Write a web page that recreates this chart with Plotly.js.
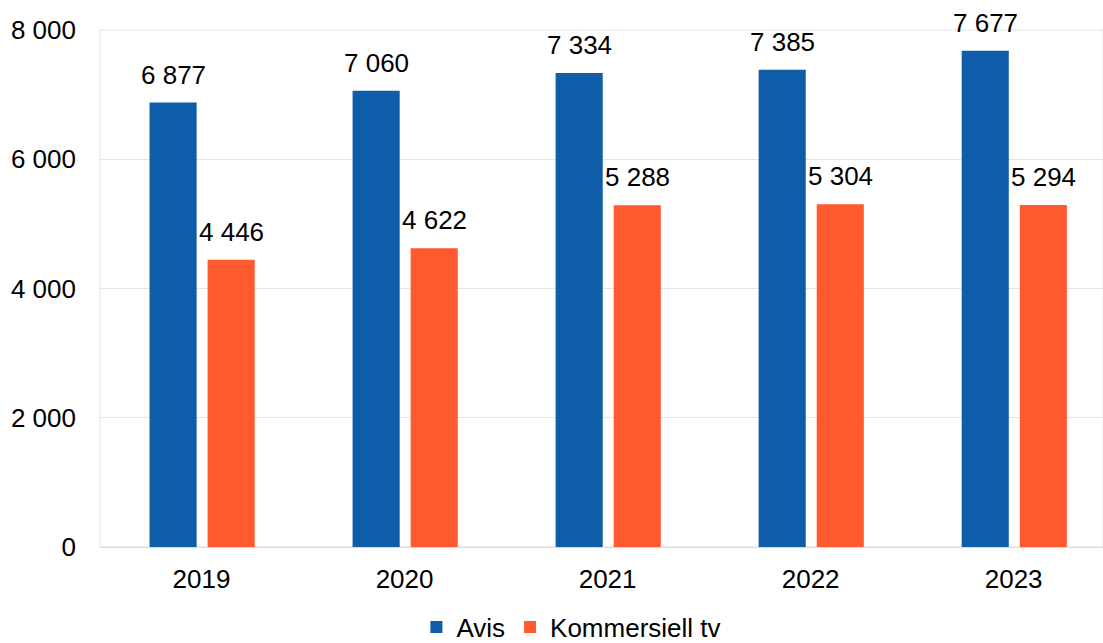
<!DOCTYPE html>
<html>
<head>
<meta charset="utf-8">
<script src="https://cdn.plot.ly/plotly-3.0.1.min.js"></script>
<style>html,body{margin:0;padding:0;background:#fff;}#chart{width:1103px;height:643px;}</style>
</head>
<body>
<div id="chart"></div>
<script>
const years = ['2019', '2020', '2021', '2022', '2023'];
const avis = [6877, 7060, 7334, 7385, 7677];
const kommersiellTv = [4446, 4622, 5288, 5304, 5294];
const seriesNames = ['Avis', 'Kommersiell tv'];
const yTicks = [0, 2000, 4000, 6000, 8000];

const font = 'Liberation Sans, Arial, sans-serif';
const colors = ['#0f5ca8', '#ff5a2f'];
const offsets = [-0.256, 0.03];
const barWidth = 0.232;
const series = [avis, kommersiellTv];

const traces = series.map((vals, i) => ({
  type: 'bar', name: seriesNames[i], x: years, y: vals,
  offset: offsets[i], width: barWidth,
  marker: {color: colors[i]}
}));

const fmt = v => String(v).replace(/\B(?=(\d{3})+(?!\d))/g, ' ');
const annotations = [];
series.forEach((vals, i) => {
  vals.forEach((v, j) => {
    annotations.push({
      x: j + offsets[i] + barWidth / 2, y: v, xref: 'x', yref: 'y', text: fmt(v), showarrow: false,
      xanchor: 'center', yanchor: 'bottom', yshift: 11,
      font: {family: font, size: 26, color: '#000'}
    });
  });
});

const layout = {
  width: 1103, height: 643,
  margin: {l: 100, r: 0, t: 30, b: 96, autoexpand: false},
  separators: ', ',
  font: {family: font, size: 26, color: '#000'},
  paper_bgcolor: '#fff', plot_bgcolor: '#fff',
  showlegend: true,
  legend: {orientation: 'h', x: 0.47, xanchor: 'center', y: -0.155, yanchor: 'middle',
    font: {family: font, size: 26}, traceorder: 'normal'},
  xaxis: {type: 'category', range: [-0.5, 4.44], showgrid: false, zeroline: false,
    showline: false, ticks: '', tickfont: {size: 26}, ticklabelstandoff: 14, fixedrange: true, automargin: false},
  yaxis: {range: [0, 8000], tickvals: yTicks, tickformat: ',d', showgrid: true,
    gridcolor: '#e4e4e4', gridwidth: 1, zeroline: true, zerolinecolor: '#d9d9d9',
    showline: false, ticks: '', ticklabelstandoff: 23, tickfont: {size: 26}, fixedrange: true, automargin: false},
  annotations: annotations,
  shapes: [{type: 'rect', xref: 'paper', yref: 'paper', x0: 0, x1: 1, y0: 0, y1: 1,
    line: {color: '#e4e4e4', width: 1}, layer: 'below'}]
};

Plotly.newPlot('chart', traces, layout, {displayModeBar: false, staticPlot: true});
</script>
</body>
</html>
